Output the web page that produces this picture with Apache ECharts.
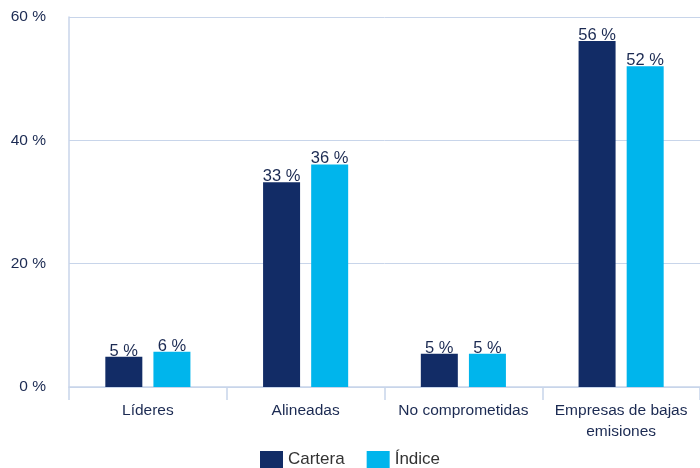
<!DOCTYPE html>
<html>
<head>
<meta charset="utf-8">
<script src="https://cdn.jsdelivr.net/npm/echarts@6/dist/echarts.min.js"></script>
<style>html,body{margin:0;padding:0;background:#fff}#c{width:700px;height:468px}</style>
</head>
<body>
<div id="c"></div>
<script>
const categories = ['Líderes', 'Alineadas', 'No comprometidas', 'Empresas de bajas\nemisiones'];
const seriesNames = ['Cartera', 'Índice'];
const cartera = [4.9, 33.2, 5.4, 56.1];
const indice = [5.7, 36.1, 5.4, 52.0];
const yTicks = [0, 20, 40, 60];

const textColor = '#1b2a52';
const gridColor = '#c8d5ea';
const font = 'Liberation Sans, Arial, Helvetica, sans-serif';

const chart = echarts.init(document.getElementById('c'));
const labelCfg = {
  show: true, position: 'top', distance: 0, offset: [0, 3],
  color: textColor, fontSize: 16.5, fontFamily: font,
  formatter: p => Math.round(p.value) + ' %'
};
chart.setOption({
  animation: false,
  textStyle: { fontFamily: font },
  grid: { left: 69, right: 0, top: 17, bottom: 81, containLabel: false },
  legend: {
    top: 451, left: 'center', itemWidth: 23, itemHeight: 17, itemGap: 22,
    icon: 'rect', padding: 0,
    textStyle: { color: '#333', fontSize: 17, fontFamily: font },
    data: seriesNames
  },
  xAxis: {
    type: 'category', data: categories,
    axisLine: { show: true, lineStyle: { color: gridColor, width: 1.5 } },
    axisTick: { show: true, length: 13, lineStyle: { color: gridColor, width: 1.5 } },
    axisLabel: { color: textColor, fontSize: 15.5, margin: 13, lineHeight: 21, fontFamily: font, interval: 0 }
  },
  yAxis: {
    type: 'value', min: 0, max: 60, interval: 20,
    axisLine: { show: true, lineStyle: { color: gridColor, width: 1.5 } },
    axisTick: { show: false },
    splitLine: { show: true, lineStyle: { color: gridColor, width: 1 } },
    axisLabel: { color: textColor, fontSize: 15.5, margin: 23, fontFamily: font,
      formatter: v => yTicks.includes(v) ? v + ' %' : '' }
  },
  series: [
    { name: seriesNames[0], type: 'bar', data: cartera, barWidth: 37, barGap: '30%',
      itemStyle: { color: '#122c66' }, label: labelCfg },
    { name: seriesNames[1], type: 'bar', data: indice, barWidth: 37,
      itemStyle: { color: '#00b5ec' }, label: labelCfg }
  ]
});
</script>
</body>
</html>
